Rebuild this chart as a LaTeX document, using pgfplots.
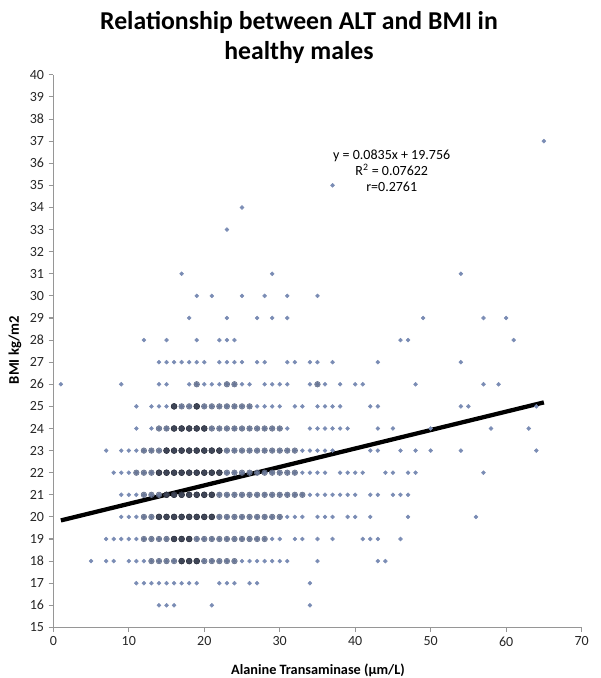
\documentclass[border=0pt]{standalone}
\usepackage{fontspec}
\setmainfont{Carlito}
\usepackage{pgfplots}
\pgfplotsset{compat=1.18}
\definecolor{dotc}{RGB}{122,140,180}
\definecolor{dotm}{RGB}{96,108,136}
\definecolor{dotd}{RGB}{44,48,60}
\definecolor{axc}{RGB}{150,150,150}
\begin{document}
\begin{tikzpicture}
\path[use as bounding box] (0,0) rectangle (450pt,508.5pt);
\begin{axis}[
  at={(40pt,37.95pt)}, anchor=south west,
  scale only axis, width=396.2pt, height=414.4pt,
  xmin=0, xmax=70, ymin=15, ymax=40,
  xtick={0,10,...,70}, ytick={15,16,...,40},
  axis x line=bottom, axis y line=left,
  axis line style={-, axc, line width=0.8pt},
  tick style={axc, line width=0.8pt},
  tick align=outside, major tick length=3.5pt,
  /pgf/number format/assume math mode=true,
  ticklabel style={font=\fontsize{10.5}{12}\selectfont, text=black!85},
  xlabel={Alanine Transaminase (μm/L)},
  ylabel={BMI kg/m2},
  xlabel style={at={(axis description cs:0.501,-0.077)}, anchor=center, font=\fontsize{10.7}{12}\selectfont\bfseries},
  ylabel style={at={(axis description cs:-0.0725,0.502)}, anchor=center, rotate=0, font=\fontsize{11}{12}\selectfont\bfseries},
  title={Relationship between ALT and BMI in\\healthy males},
  title style={at={(axis description cs:0.465,1.054)}, anchor=center, align=center, font=\fontsize{19.3}{22.5}\selectfont\bfseries},
  clip=false,
]
% all observed (ALT, BMI) combinations
\addplot[only marks, color=dotc, mark=*, mark size=1.45pt, mark options={draw=none, fill=dotc}] coordinates {
(14,16)(15,16)(16,16)(21,16)(34,16)
(11,17)(12,17)(13,17)(14,17)(15,17)(16,17)(17,17)(18,17)(19,17)(22,17)(23,17)(24,17)(26,17)(27,17)(34,17)
(5,18)(7,18)(8,18)(10,18)(11,18)(12,18)(13,18)(14,18)(15,18)(16,18)(17,18)(18,18)(19,18)(20,18)(21,18)(22,18)(23,18)(24,18)(25,18)(26,18)(27,18)(28,18)(29,18)(30,18)(31,18)(35,18)(43,18)(44,18)
(7,19)(8,19)(9,19)(10,19)(11,19)(12,19)(13,19)(14,19)(15,19)(16,19)(17,19)(18,19)(19,19)(20,19)(21,19)(22,19)(23,19)(24,19)(25,19)(26,19)(27,19)(28,19)(29,19)(30,19)(32,19)(33,19)(35,19)(37,19)(41,19)(42,19)(43,19)(46,19)
(9,20)(10,20)(11,20)(12,20)(13,20)(14,20)(15,20)(16,20)(17,20)(18,20)(19,20)(20,20)(21,20)(22,20)(23,20)(24,20)(25,20)(26,20)(27,20)(28,20)(29,20)(30,20)(31,20)(32,20)(33,20)(35,20)(36,20)(37,20)(39,20)(40,20)(42,20)(47,20)(56,20)
(9,21)(10,21)(11,21)(12,21)(13,21)(14,21)(15,21)(16,21)(17,21)(18,21)(19,21)(20,21)(21,21)(22,21)(23,21)(24,21)(25,21)(26,21)(27,21)(28,21)(29,21)(30,21)(31,21)(32,21)(33,21)(34,21)(35,21)(36,21)(37,21)(38,21)(39,21)(40,21)(42,21)(43,21)(45,21)(46,21)(47,21)
(8,22)(9,22)(10,22)(11,22)(12,22)(13,22)(14,22)(15,22)(16,22)(17,22)(18,22)(19,22)(20,22)(21,22)(22,22)(23,22)(24,22)(25,22)(26,22)(27,22)(28,22)(29,22)(30,22)(31,22)(32,22)(33,22)(34,22)(35,22)(36,22)(38,22)(39,22)(40,22)(41,22)(44,22)(45,22)(47,22)(48,22)(57,22)
(7,23)(9,23)(10,23)(11,23)(12,23)(13,23)(14,23)(15,23)(16,23)(17,23)(18,23)(19,23)(20,23)(21,23)(22,23)(23,23)(24,23)(25,23)(26,23)(27,23)(28,23)(29,23)(30,23)(31,23)(32,23)(33,23)(34,23)(35,23)(36,23)(37,23)(42,23)(43,23)(46,23)(48,23)(50,23)(54,23)(64,23)
(11,24)(13,24)(14,24)(15,24)(16,24)(17,24)(18,24)(19,24)(20,24)(21,24)(22,24)(23,24)(24,24)(25,24)(26,24)(27,24)(28,24)(29,24)(30,24)(31,24)(34,24)(35,24)(36,24)(37,24)(38,24)(39,24)(43,24)(45,24)(50,24)(58,24)(63,24)
(11,25)(13,25)(14,25)(15,25)(16,25)(17,25)(18,25)(19,25)(20,25)(21,25)(22,25)(23,25)(24,25)(25,25)(26,25)(27,25)(28,25)(29,25)(30,25)(32,25)(33,25)(35,25)(36,25)(37,25)(38,25)(42,25)(43,25)(54,25)(55,25)(64,25)
(1,26)(9,26)(14,26)(15,26)(18,26)(19,26)(20,26)(21,26)(22,26)(23,26)(24,26)(25,26)(26,26)(28,26)(29,26)(30,26)(31,26)(34,26)(35,26)(36,26)(38,26)(40,26)(41,26)(48,26)(57,26)(59,26)
(14,27)(15,27)(16,27)(17,27)(18,27)(19,27)(20,27)(22,27)(23,27)(24,27)(25,27)(27,27)(28,27)(31,27)(32,27)(34,27)(35,27)(37,27)(43,27)(54,27)
(12,28)(15,28)(19,28)(22,28)(23,28)(24,28)(46,28)(47,28)(61,28)
(18,29)(23,29)(27,29)(29,29)(31,29)(49,29)(57,29)(60,29)
(19,30)(21,30)(25,30)(28,30)(31,30)(35,30)
(17,31)(29,31)(54,31)
(23,33)(25,34)(37,35)(65,37)
};
% frequent combinations (overlapping points)
\addplot[only marks, color=dotm, mark=*, mark size=2.1pt, mark options={draw=none, fill=dotm, fill opacity=0.65}] coordinates {
(13,18)(14,18)(15,18)(16,18)(17,18)(18,18)(19,18)(20,18)(21,18)(22,18)(23,18)(24,18)
(12,19)(13,19)(14,19)(15,19)(16,19)(17,19)(18,19)(19,19)(20,19)(21,19)(22,19)(23,19)(24,19)(25,19)(26,19)(27,19)(28,19)
(12,20)(13,20)(14,20)(15,20)(16,20)(17,20)(18,20)(19,20)(20,20)(21,20)(22,20)(23,20)(24,20)(25,20)(26,20)(27,20)(28,20)(29,20)(30,20)
(12,21)(13,21)(14,21)(15,21)(16,21)(17,21)(18,21)(19,21)(20,21)(21,21)(22,21)(23,21)(24,21)(25,21)(26,21)(27,21)(28,21)(29,21)(30,21)(31,21)(32,21)(33,21)
(11,22)(12,22)(13,22)(14,22)(15,22)(16,22)(17,22)(18,22)(19,22)(20,22)(21,22)(22,22)(23,22)(24,22)(25,22)(26,22)(27,22)(28,22)(29,22)(30,22)(31,22)(32,22)
(12,23)(13,23)(14,23)(15,23)(16,23)(17,23)(18,23)(19,23)(20,23)(21,23)(22,23)(23,23)(24,23)(25,23)(26,23)(27,23)(28,23)(29,23)(30,23)(31,23)(32,23)
(14,24)(15,24)(16,24)(17,24)(18,24)(19,24)(20,24)(21,24)(22,24)(23,24)(24,24)(25,24)(26,24)(27,24)(28,24)(29,24)(30,24)
(16,25)(17,25)(18,25)(19,25)(20,25)(21,25)(22,25)(23,25)(24,25)(25,25)(26,25)
(19,26)(23,26)(24,26)(35,26)
};
% most frequent combinations
\addplot[only marks, color=dotd, mark=*, mark size=2.2pt, mark options={draw=none, fill=dotd, fill opacity=0.7}] coordinates {
(17,18)(18,18)(19,18)
(16,19)(17,19)(18,19)
(14,20)(15,20)(16,20)(17,20)(18,20)(19,20)(20,20)(21,20)
(15,21)(16,21)(17,21)(18,21)(19,21)(20,21)(21,21)
(14,22)(15,22)(16,22)(17,22)(18,22)(19,22)(20,22)(21,22)(22,22)
(15,23)(16,23)(17,23)(18,23)(19,23)(20,23)(21,23)(22,23)
(16,24)(17,24)(18,24)(19,24)(20,24)
(16,25)(19,25)
};
% linear trend line y = 0.0835x + 19.756
\addplot[black, line width=3.2pt] coordinates {(1,19.84)(65,25.18)};
\node[align=center, font=\fontsize{10.5}{12.2}\selectfont, anchor=center] at (axis cs:44.84,35.65)
  {y = 0.0835x + 19.756\\R\textsuperscript{2} = 0.07622\\r=0.2761};
\end{axis}
\end{tikzpicture}
\end{document}
